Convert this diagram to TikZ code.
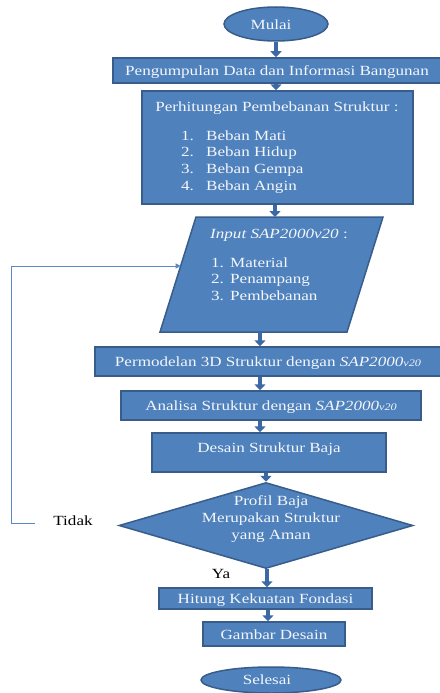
\documentclass[tikz,border=0pt]{standalone}
\usepackage{fontspec}
\setmainfont{Liberation Serif}[FakeStretch=1.22]
\usetikzlibrary{arrows.meta,shapes.geometric}
\definecolor{bfill}{HTML}{4F81BD}
\definecolor{bline}{HTML}{385D8A}
\definecolor{arr}{HTML}{3C68A6}
\definecolor{fb}{HTML}{5A8AC6}
\definecolor{txtc}{HTML}{F4F6FA}
\newcommand{\fs}{\fontsize{14pt}{16.5pt}\selectfont}
\newcommand{\smv}[1]{{\fontsize{10pt}{12pt}\selectfont #1}}
\begin{document}
\begin{tikzpicture}[x=1pt,y=-1pt,
  box/.style={draw=bline, fill=bfill, line width=1.5pt, rectangle, inner sep=0pt,
    text=txtc, font=\fs, text height=10pt, text depth=0pt},
  oval/.style={ellipse, draw=bline, fill=bfill, line width=1.5pt, inner sep=0pt,
    text=txtc, font=\fs},
  dia/.style={diamond, aspect=3.4, draw=bline, fill=bfill, line width=1.5pt, inner sep=0pt},
  txt/.style={text=txtc, inner sep=0pt, font=\fs},
  lbl/.style={text=black, inner sep=0pt, font=\fs},
  barrow/.style={draw=arr, line width=3.6pt, -{Triangle[width=11pt,length=6pt]}},
  fbline/.style={draw=fb, line width=1pt, -{Triangle[width=5pt,length=5pt]}}
]
\useasboundingbox (0,0) rectangle (439,693);
\fill[white] (0,0) rectangle (439,693);

% start
\node[oval, minimum width=104pt, minimum height=34pt] (start) at (276,24) {};
\node[txt] (startT) at (271,25) {Mulai};

% box 1
\node[box, minimum width=328pt, minimum height=25pt] (box1) at (277,70.5)
  {Pengumpulan Data dan Informasi Bangunan};

% box 2
\node[box, minimum width=271pt, minimum height=113pt] (box2) at (277.5,147.5) {};
\node[txt, anchor=base] (b2t) at (277,111) {Perhitungan Pembebanan Struktur :};
\node[txt, anchor=base west] (n1) at (181,140) {1.};
\node[txt, anchor=base west] (i1) at (206,140) {Beban Mati};
\node[txt, anchor=base west] (n2) at (181,156.7) {2.};
\node[txt, anchor=base west] (i2) at (206,156.7) {Beban Hidup};
\node[txt, anchor=base west] (n3) at (181,173.3) {3.};
\node[txt, anchor=base west] (i3) at (206,173.3) {Beban Gempa};
\node[txt, anchor=base west] (n4) at (181,190) {4.};
\node[txt, anchor=base west] (i4) at (206,190) {Beban Angin};

% parallelogram
\path[draw=bline, fill=bfill, line width=1.5pt]
  (196,217) -- (383,217) -- (347,332) -- (160,332) -- cycle;
\coordinate (parT) at (275,217);
\coordinate (parB) at (260,332);
\coordinate (parL) at (180.7,266);
\node[txt, anchor=base west] (pt) at (210,238) {\textit{Input SAP2000v20} :};
\node[txt, anchor=base west] (m1) at (211,267) {1.};
\node[txt, anchor=base west] (p1) at (230,267) {Material};
\node[txt, anchor=base west] (m2) at (211,283.5) {2.};
\node[txt, anchor=base west] (p2) at (230,283.5) {Penampang};
\node[txt, anchor=base west] (m3) at (211,300) {3.};
\node[txt, anchor=base west] (p3) at (230,300) {Pembebanan};

% modelling / analysis / design
\node[box, minimum width=346pt, minimum height=29pt] (perm) at (268,361.5)
  {Permodelan 3D Struktur dengan \textit{SAP2000\smv{v20}}};
\node[box, minimum width=300pt, minimum height=29pt] (anal) at (271,405.5)
  {Analisa Struktur dengan \textit{SAP2000\smv{v20}}};
\node[box, minimum width=234pt, minimum height=39pt] (des) at (269,452.5) {};
\node[txt, anchor=base] (desT) at (269,452) {Desain Struktur Baja};

% decision
\node[dia, minimum width=294pt, minimum height=86pt] (dec) at (266,525.5) {};
\node[txt, align=center, font=\fontsize{14pt}{17pt}\selectfont] (decT) at (271,519.5)
  {Profil Baja\\Merupakan Struktur\\yang Aman};

% lower boxes
\node[box, minimum width=213pt, minimum height=21pt] (hit) at (265.5,598.5)
  {Hitung Kekuatan Fondasi};
\node[box, minimum width=142pt, minimum height=24pt] (gam) at (274,634)
  {Gambar Desain};

% end
\node[oval, minimum width=140pt, minimum height=26pt] (stop) at (271,680) {};
\node[txt] (stopT) at (267,680) {Selesai};

% labels
\node[lbl, anchor=base] (tidak) at (73,525) {Tidak};
\node[lbl, anchor=base] (ya) at (221,578) {Ya};

% arrows
\draw[barrow] (start.south) -- (box1.north -| start.south);
\draw[barrow] (box1.south -| start.south) -- (box2.north -| start.south);
\draw[barrow] (box2.south -| parT) -- (parT);
\draw[barrow] (parB) -- (perm.north -| parB);
\draw[barrow] (perm.south -| parB) -- (anal.north -| parB);
\draw[barrow] (anal.south -| parB) -- (des.north -| parB);
\draw[barrow] (des.south -| dec.north) -- (dec.north);
\draw[barrow] ([xshift=1pt]dec.south) -- ([xshift=1pt]dec.south |- hit.north);
\draw[barrow] ([xshift=2pt]dec.south |- hit.south) -- ([xshift=2pt]dec.south |- gam.north);

% feedback
\coordinate (fbS) at (35,523);
\draw[fbline] (fbS) -- ++(-24,0) |- (parL);
\end{tikzpicture}
\end{document}
